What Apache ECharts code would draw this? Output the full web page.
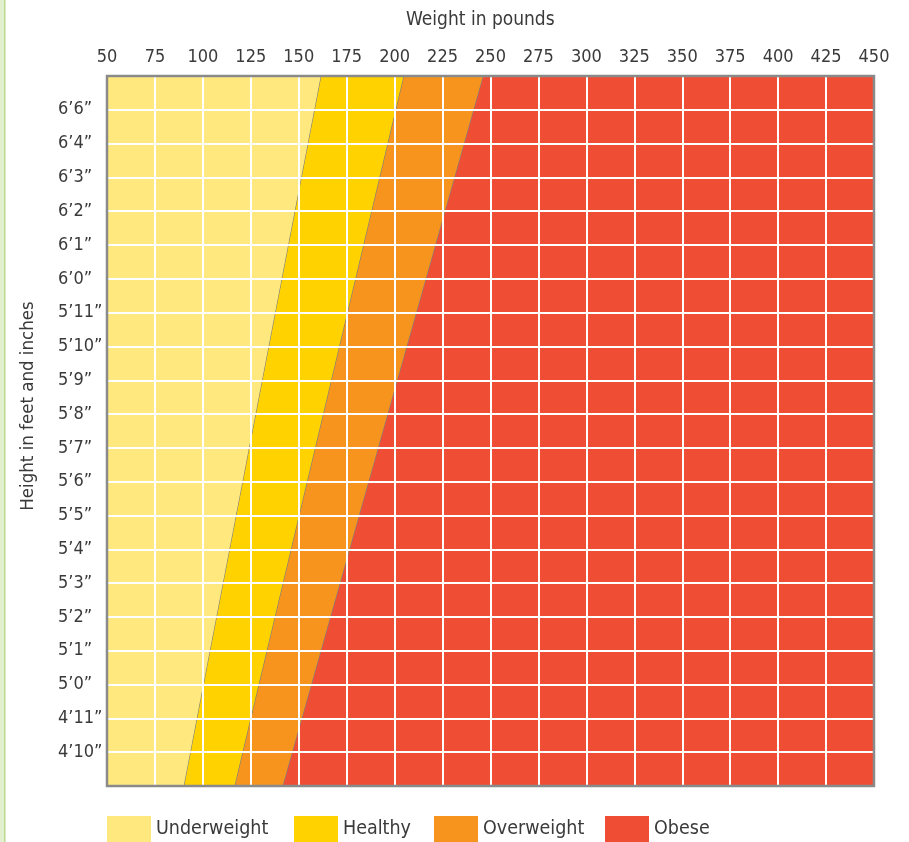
<!DOCTYPE html>
<html>
<head>
<meta charset="utf-8">
<script src="https://cdn.jsdelivr.net/npm/echarts@6/dist/echarts.min.js"></script>
<style>
  html, body { margin: 0; padding: 0; background: #ffffff; }
  #chart { width: 909px; height: 842px; }
</style>
</head>
<body>
<div id="chart"></div>
<script>
// ---- Data ----
const weightMin = 50;
const weightMax = 450;
const weightStep = 25;
// height labels from bottom gridline to top gridline (as printed in the chart)
const heightLabels = ["4\u201910\u201D", "4\u201911\u201D", "5\u20190\u201D", "5\u20191\u201D", "5\u20192\u201D",
  "5\u20193\u201D", "5\u20194\u201D", "5\u20195\u201D", "5\u20196\u201D", "5\u20197\u201D", "5\u20198\u201D",
  "5\u20199\u201D", "5\u201910\u201D", "5\u201911\u201D", "6\u20190\u201D", "6\u20191\u201D", "6\u20192\u201D",
  "6\u20193\u201D", "6\u20194\u201D", "6\u20196\u201D"];
const rowCount = 21;
const zoneNames = ["Underweight", "Healthy", "Overweight", "Obese"];
const zoneColors = ["#FFE97F", "#FFD200", "#F7941E", "#EF4E35"];
// weight (lbs) where each zone boundary meets the bottom and top edges of the chart
const boundaryBottom = [90.3, 116.8, 141.9];
const boundaryTop = [161.8, 205.0, 246.4];

const FONT = "'DejaVu Sans Condensed', 'Roboto Condensed', Roboto, sans-serif";
const TEXT = "#3a3a3a";

const leftBottom = [weightMin].concat(boundaryBottom);
const leftTop = [weightMin].concat(boundaryTop);
const rightBottom = boundaryBottom.concat([weightMax]);
const rightTop = boundaryTop.concat([weightMax]);

function renderZone(params, api) {
  const lb = api.value(0), lt = api.value(1), rb = api.value(2), rt = api.value(3);
  const i = params.seriesIndex;
  const p1 = api.coord([lb, 0]);
  const p2 = api.coord([rb, 0]);
  const p3 = api.coord([rt, rowCount]);
  const p4 = api.coord([lt, rowCount]);
  const children = [{
    type: 'polygon',
    shape: { points: [p1, p2, p3, p4] },
    style: { fill: zoneColors[i], stroke: null }
  }];
  if (i < zoneNames.length - 1) {
    children.push({
      type: 'line',
      shape: { x1: p2[0], y1: p2[1], x2: p3[0], y2: p3[1] },
      style: { stroke: '#7d7d7d', lineWidth: 1.2 }
    });
  }
  return { type: 'group', children: children };
}

const series = zoneNames.map(function (name, i) {
  return {
    name: name,
    type: 'custom',
    renderItem: renderZone,
    itemStyle: { color: zoneColors[i] },
    data: [[leftBottom[i], leftTop[i], rightBottom[i], rightTop[i]]],
    encode: { x: [0, 1, 2, 3] },
    silent: true,
    z: 2
  };
});

const legendLefts = [107, 294, 434, 605];
const legends = zoneNames.map(function (name, i) {
  return {
    data: [name], left: legendLefts[i], top: 816, icon: 'rect',
    itemWidth: 44, itemHeight: 26, selectedMode: false, padding: 0,
    textStyle: { fontFamily: FONT, fontSize: 19.5, color: TEXT }
  };
});

const chart = echarts.init(document.getElementById('chart'), null, { renderer: 'canvas' });
chart.setOption({
  animation: false,
  backgroundColor: '#ffffff',
  title: {
    text: 'Weight in pounds',
    left: 406,
    top: 11,
    padding: 0,
    textStyle: { fontFamily: FONT, fontSize: 19, fontWeight: 'normal', color: TEXT }
  },
  grid: {
    left: 107, right: 35, top: 76, height: 710,
    show: true, borderColor: '#8a8a8a', borderWidth: 2.5,
    backgroundColor: 'transparent', z: 5
  },
  xAxis: {
    type: 'value', position: 'top',
    min: weightMin, max: weightMax, interval: weightStep,
    z: 4,
    axisLine: { show: false }, axisTick: { show: false },
    axisLabel: { fontFamily: FONT, fontSize: 18, color: TEXT, margin: 10 },
    splitLine: { show: true, lineStyle: { color: '#ffffff', width: 2 } }
  },
  yAxis: {
    type: 'value', min: 0, max: rowCount, interval: 1,
    z: 4,
    axisLine: { show: false }, axisTick: { show: false },
    axisLabel: {
      fontFamily: FONT, fontSize: 18, color: TEXT, margin: 49, align: 'left',
      verticalAlign: 'middle', padding: [0, 0, 9, 0],
      formatter: function (v) { return (v >= 1 && v <= heightLabels.length) ? heightLabels[v - 1] : ''; }
    },
    splitLine: { show: true, lineStyle: { color: '#ffffff', width: 2 } }
  },
  legend: legends,
  graphic: [
    { type: 'rect', left: 0, top: 0, shape: { width: 4, height: 842 }, style: { fill: '#e2f0d0' }, silent: true },
    { type: 'rect', left: 4, top: 0, shape: { width: 1.5, height: 842 }, style: { fill: '#bcd98f' }, silent: true },
    {
      type: 'text', x: 28, y: 406, rotation: Math.PI / 2, silent: true,
      style: { text: 'Height in feet and inches', font: "18.5px " + FONT, fill: TEXT, align: 'center', verticalAlign: 'middle' }
    }
  ],
  series: series
});
</script>
</body>
</html>
